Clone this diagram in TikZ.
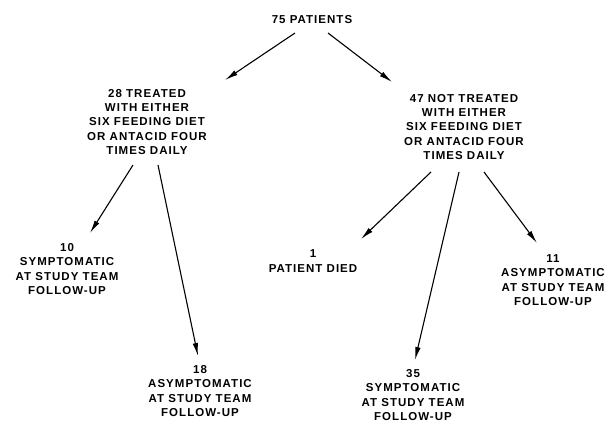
\documentclass[tikz,border=0pt]{standalone}
\usepackage{fontspec}
\newfontfamily\chartfont{Liberation Sans}[LetterSpace=9]
\usepackage{tikz}
\usetikzlibrary{arrows.meta, positioning}

\begin{document}
\begin{tikzpicture}[x=1pt, y=-1pt,
        txt/.style={inner sep=0pt, align=center,
                    font=\chartfont\bfseries\fontsize{11.5}{14.2}\selectfont},
        arr/.style={-{Latex[length=13pt, width=5.5pt]}, line width=1.1pt}
      ]
        \useasboundingbox (0,0) rectangle (607,423);
        \node[txt] (pat)   at (312,20)  {75 PATIENTS};
        \node[txt] (trt)   at (147,122) {28 TREATED\\WITH EITHER\\SIX FEEDING DIET\\OR ANTACID FOUR\\TIMES DAILY};
        \node[txt] (ntrt)  at (464,127) {47 NOT TREATED\\WITH EITHER\\SIX FEEDING DIET\\OR ANTACID FOUR\\TIMES DAILY};
        \node[txt] (symA)  at (67,269)  {10\\SYMPTOMATIC\\AT STUDY TEAM\\FOLLOW-UP};
        \node[txt] (asymA) at (200,391) {18\\ASYMPTOMATIC\\AT STUDY TEAM\\FOLLOW-UP};
        \node[txt] (died)  at (313,261) {1\\PATIENT DIED};
        \node[txt] (symB)  at (413,395) {35\\SYMPTOMATIC\\AT STUDY TEAM\\FOLLOW-UP};
        \node[txt] (asymB) at (553,280) {11\\ASYMPTOMATIC\\AT STUDY TEAM\\FOLLOW-UP};
        \draw[arr] ([shift={(-17,13)}]pat.center) -- ([shift={(78,-42)}]trt.center);
        \draw[arr] ([shift={(16,13)}]pat.center)  -- ([shift={(-72,-45)}]ntrt.center);
        \draw[arr] ([shift={(-14,43)}]trt.center) -- ([shift={(23,-36)}]symA.center);
        \draw[arr] ([shift={(11,43)}]trt.center)  -- ([shift={(-2,-35)}]asymA.center);
        \draw[arr] ([shift={(-33,45)}]ntrt.center) -- ([shift={(48,-22)}]died.center);
        \draw[arr] ([shift={(-5,45)}]ntrt.center)  -- ([shift={(2,-35)}]symB.center);
        \draw[arr] ([shift={(20,45)}]ntrt.center)  -- ([shift={(-16,-37)}]asymB.center);
      \end{tikzpicture}
\end{document}
